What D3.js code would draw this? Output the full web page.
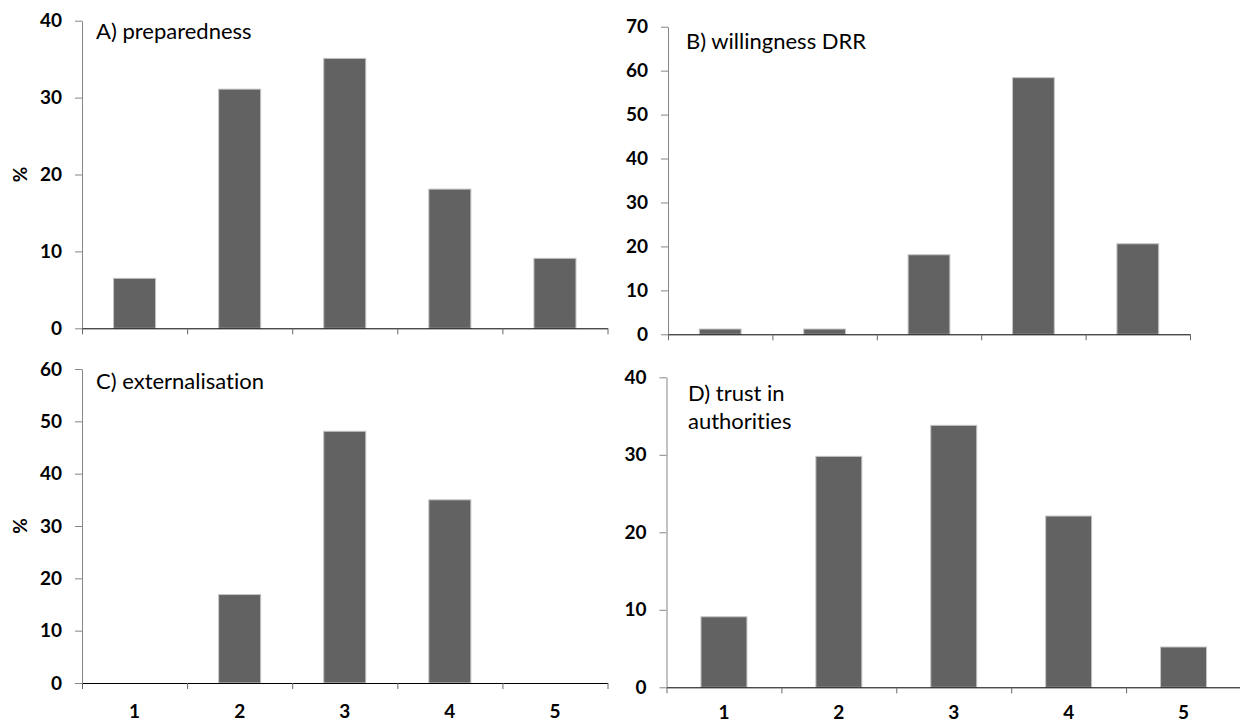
<!DOCTYPE html>
<html>
<head>
    <meta charset="utf-8">
    <title>Survey response distributions</title>
    <script src="https://cdn.jsdelivr.net/npm/d3@7"></script>
    <style>
        body { margin: 0; background: #fff; overflow: hidden; }
        svg { display: block; font-family: Lato, "Open Sans", sans-serif; font-variant-ligatures: none; }
        .tick text { font-family: Lato, "Open Sans", sans-serif; font-size: 19px; font-weight: bold; fill: #000; }
        .bold-label { font-size: 19px; font-weight: bold; }
        .panel-title { font-size: 22px; fill: #000; font-variant-ligatures: none; }
    </style>
</head>
<body>
<script>
    const categories = ['1', '2', '3', '4', '5'];
    const preparedness = [6.5, 31.1, 35.1, 18.1, 9.1];
    const willingnessDRR = [1.2, 1.2, 18.1, 58.4, 20.6];
    const externalisation = [0, 16.9, 48.1, 35.0, 0];
    const trustAuthorities = [9.1, 29.8, 33.8, 22.1, 5.2];
    const yTicksA = [0, 10, 20, 30, 40];
    const yTicksB = [0, 10, 20, 30, 40, 50, 60, 70];
    const yTicksC = [0, 10, 20, 30, 40, 50, 60];
    const yTicksD = [0, 10, 20, 30, 40];

    const width = 1240;
    const height = 722;

    const svg = d3.select('body')
        .append('svg')
        .attr('width', width)
        .attr('height', height);

    // plot area of each panel, in page pixels
    const panels = [
        { values: preparedness, ticks: yTicksA, title: ['A) preparedness'], left: 82, right: 607.5, top: 20.7, bottom: 328.3, pct: true, xLabels: false, labelGap: 0, titleX: 96, titleY: 39 },
        { values: willingnessDRR, ticks: yTicksB, title: ['B) willingness DRR'], left: 668, right: 1190, top: 26.7, bottom: 334.3, pct: false, xLabels: false, labelGap: 0, titleX: 686, titleY: 49 },
        { values: externalisation, ticks: yTicksC, title: ['C) externalisation'], left: 82, right: 607.5, top: 369, bottom: 683, pct: true, xLabels: true, labelGap: 28, titleX: 96, titleY: 389 },
        { values: trustAuthorities, ticks: yTicksD, title: ['D) trust in', 'authorities'], left: 666.5, right: 1241, top: 377.3, bottom: 687.3, pct: false, xLabels: true, labelGap: 25.5, titleX: 688, titleY: 401 }
    ];

    panels.forEach(p => {
        const g = svg.append('g');

        const xScale = d3.scaleBand()
            .domain(categories)
            .range([p.left, p.right])
            .paddingInner(0.6)
            .paddingOuter(0.3);

        const xEdges = d3.scaleLinear()
            .domain([0, categories.length])
            .range([p.left, p.right]);

        const yScale = d3.scaleLinear()
            .domain([0, d3.max(p.ticks)])
            .range([p.bottom, p.top]);

        // Bars
        g.selectAll('.bar')
            .data(p.values)
            .enter()
            .append('rect')
            .attr('class', 'bar')
            .attr('x', (d, i) => xScale(categories[i]))
            .attr('y', d => yScale(d))
            .attr('width', xScale.bandwidth())
            .attr('height', d => yScale(0) - yScale(d))
            .attr('fill', '#626262')
            .attr('stroke', d => d > 0 ? '#c4c4c4' : 'none')
            .attr('stroke-width', 1);

        // Y axis
        const yAxis = g.append('g')
            .attr('transform', `translate(${p.left}, 0)`)
            .call(d3.axisLeft(yScale).tickValues(p.ticks).tickSize(7).tickPadding(13).tickSizeOuter(0));
        yAxis.select('.domain').attr('stroke', '#868686');
        yAxis.selectAll('.tick line').attr('stroke', '#868686');

        // X axis: tick marks at category edges
        const xAxis = g.append('g')
            .attr('transform', `translate(0, ${p.bottom})`)
            .call(d3.axisBottom(xEdges).tickValues(d3.range(categories.length + 1)).tickSize(6).tickSizeOuter(0).tickFormat(''));
        xAxis.select('.domain').attr('stroke', '#000');
        xAxis.selectAll('.tick line').attr('stroke', '#666');

        if (p.xLabels) {
            g.selectAll('.x-label')
                .data(categories)
                .enter()
                .append('text')
                .attr('class', 'x-label bold-label')
                .attr('x', d => xScale(d) + xScale.bandwidth() / 2)
                .attr('y', p.bottom + p.labelGap)
                .attr('dy', '0.35em')
                .attr('text-anchor', 'middle')
                .text(d => d);
        }

        if (p.pct) {
            g.append('text')
                .attr('class', 'bold-label')
                .attr('transform', `translate(20, ${(p.top + p.bottom) / 2}) rotate(-90)`)
                .attr('dy', '0.35em')
                .attr('text-anchor', 'middle')
                .text('%');
        }

        // Panel title
        const title = g.append('text')
            .attr('class', 'panel-title')
            .attr('x', p.titleX)
            .attr('y', p.titleY);
        title.selectAll('tspan')
            .data(p.title)
            .enter()
            .append('tspan')
            .attr('x', p.titleX)
            .attr('dy', (d, i) => i === 0 ? 0 : 28)
            .text(d => d);
    });
</script>
</body>
</html>
